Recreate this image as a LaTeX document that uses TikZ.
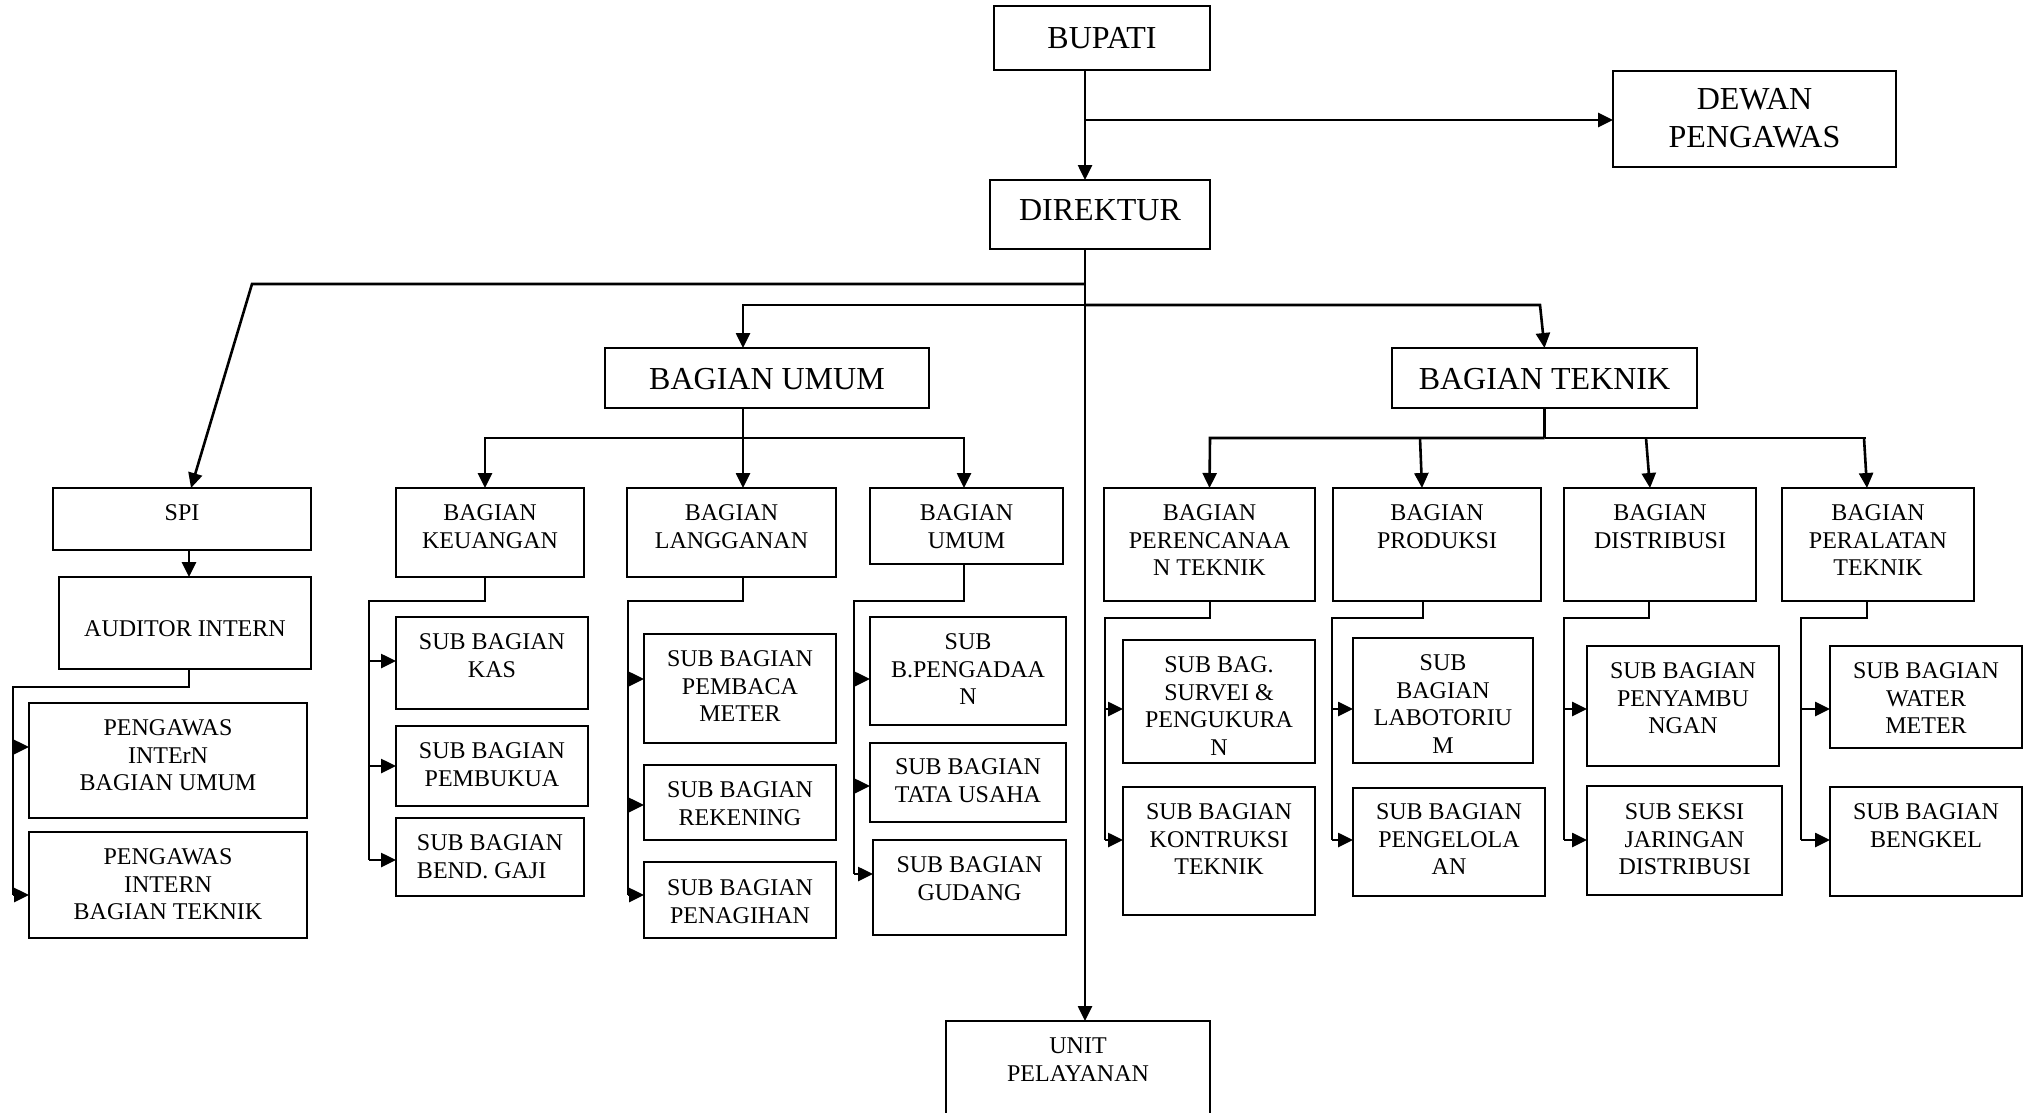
\documentclass[tikz,border=0pt]{standalone}
\usepackage{fontspec}
\setmainfont{Liberation Serif}
\usetikzlibrary{arrows.meta,calc}
\tikzset{
  box/.style={draw, line width=2.2pt, inner sep=0pt, outer sep=0pt},
  txt/.style={align=center, inner sep=0pt, outer sep=0pt, font=\fontsize{24}{27.5}\selectfont},
  txtl/.style={txt, align=left},
  bigtxt/.style={align=center, inner sep=0pt, outer sep=0pt, font=\fontsize{32}{38}\selectfont},
  conn/.style={line width=2.6pt},
  arr/.style={line width=2.6pt, -{Triangle[length=15pt,width=14pt]}},
}
% name, x1, y1, x2, y2, cap top, text
\newcommand{\bx}[8][txt]{%
  \node[box, minimum width={(#5-#3)*1pt}, minimum height={(#6-#4)*1pt}] (#2) at ({(#3+#5)/2},{(#4+#6)/2}) {};
  \node[#1, anchor=north] (#2t) at ({(#3+#5)/2},#7) {#8};
}
\begin{document}
\begin{tikzpicture}[x=1pt,y=-1pt]
\useasboundingbox (0,0) rectangle (2029,1112);
\clip (0,0) rectangle (2029,1112);

% top level
\bx[bigtxt]{bupati}{994}{6}{1210}{70}{27}{BUPATI}
\bx[bigtxt]{dewan}{1613}{71}{1896}{167}{88}{DEWAN\\PENGAWAS}
\bx[bigtxt]{direktur}{990}{180}{1210}{249}{200}{DIREKTUR}
\bx[bigtxt]{bumum}{605}{348}{929}{408}{368}{BAGIAN UMUM}
\bx[bigtxt]{btek}{1392}{348}{1697}{408}{368}{BAGIAN TEKNIK}

% left groups
\bx{spi}{53}{488}{311}{550}{505}{SPI}
\bx{aud}{59}{577}{311}{669}{621}{AUDITOR INTERN}
\bx{pgu}{29}{703}{307}{818}{720}{PENGAWAS\\INTErN\\BAGIAN UMUM}
\bx{pgt}{29}{832}{307}{938}{849}{PENGAWAS\\INTERN\\BAGIAN TEKNIK}

\bx{keu}{396}{488}{584}{577}{505}{BAGIAN\\KEUANGAN}
\bx{kas}{396}{617}{588}{709}{634}{SUB BAGIAN\\KAS}
\bx{pemb}{396}{726}{588}{806}{743}{SUB BAGIAN\\PEMBUKUA}
\bx[txtl]{gaji}{396}{818}{584}{896}{835}{SUB BAGIAN\\BEND. GAJI}

\bx{lang}{627}{488}{836}{577}{505}{BAGIAN\\LANGGANAN}
\bx{meter}{644}{634}{836}{743}{651}{SUB BAGIAN\\PEMBACA\\METER}
\bx{rek}{644}{765}{836}{840}{782}{SUB BAGIAN\\REKENING}
\bx{tagih}{644}{862}{836}{938}{880}{SUB BAGIAN\\PENAGIHAN}

\bx{umum}{870}{488}{1063}{564}{505}{BAGIAN\\UMUM}
\bx{pengadaan}{870}{617}{1066}{725}{634}{SUB\\B.PENGADAA\\N}
\bx{tu}{870}{743}{1066}{822}{759}{SUB BAGIAN\\TATA USAHA}
\bx{gudang}{873}{840}{1066}{935}{857}{SUB BAGIAN\\GUDANG}

\bx{unit}{946}{1021}{1210}{1140}{1038}{UNIT\\PELAYANAN}

% right groups
\bx{perenc}{1104}{488}{1315}{601}{505}{BAGIAN\\PERENCANAA\\N TEKNIK}
\bx{survei}{1123}{640}{1315}{763}{657}{SUB BAG.\\SURVEI \&\\PENGUKURA\\N}
\bx{kontr}{1123}{787}{1315}{915}{804}{SUB BAGIAN\\KONTRUKSI\\TEKNIK}

\bx{prod}{1333}{488}{1541}{601}{505}{BAGIAN\\PRODUKSI}
\bx{lab}{1353}{638}{1533}{763}{655}{SUB\\BAGIAN\\LABOTORIU\\M}
\bx{pengel}{1353}{788}{1545}{896}{804}{SUB BAGIAN\\PENGELOLA\\AN}

\bx{dist}{1564}{488}{1756}{601}{505}{BAGIAN\\DISTRIBUSI}
\bx{sambung}{1587}{646}{1779}{766}{663}{SUB BAGIAN\\PENYAMBU\\NGAN}
\bx{jaringan}{1587}{786}{1782}{895}{804}{SUB SEKSI\\JARINGAN\\DISTRIBUSI}

\bx{alat}{1782}{488}{1974}{601}{505}{BAGIAN\\PERALATAN\\TEKNIK}
\bx{water}{1830}{646}{2022}{748}{663}{SUB BAGIAN\\WATER\\METER}
\bx{bengkel}{1830}{787}{2022}{896}{804}{SUB BAGIAN\\BENGKEL}

% trunk
\coordinate (t1) at (1085,120);
\coordinate (ts) at (1085,284);
\coordinate (t2) at (1085,305);
\draw[arr] (bupati.south -| t1) -- (direktur.north -| t1);
\draw[arr] (t1) -- (t1 -| dewan.west);
\draw[arr] (direktur.south -| t1) -- (unit.north -| t1);

% SPI branch
\coordinate (s2) at (252,284);
\draw[arr] (ts) -- (s2) -- ($(spi.north)+(9,0)$);

% bagian bus
\coordinate (u1) at (743,305);
\coordinate (u2) at (1540,305);
\draw[arr] (t2) -- (u1) -- (u1 |- bumum.north);
\draw[arr] (t2) -- (u2) -- (btek.north);

% bagian umum children
\coordinate (b0) at (485,438);
\coordinate (b1) at (743,438);
\coordinate (b2) at (964,438);
\draw[conn] (bumum.south -| b1) -- (b1);
\draw[arr] (b1) -- (b1 |- lang.north);
\draw[arr] (b1) -- (b0) -- (b0 |- keu.north);
\draw[arr] (b1) -- (b2) -- (b2 |- umum.north);

% bagian teknik children
\coordinate (k0) at (1210,438);
\coordinate (k2) at (1420,438);
\coordinate (k3) at (1646,438);
\coordinate (k4) at (1864,438);
\coordinate (k5) at (1866,438);
\draw[conn] (btek.south) -- (btek.south |- k0);
\draw[conn] (btek.south |- k0) -- (k5);
\draw[arr] (btek.south |- k0) -- (k0) -- (perenc.north);
\draw[arr] (k2) -- ($(prod.north)+(-15,0)$);
\draw[arr] (k3) -- ($(dist.north)+(-10,0)$);
\draw[arr] (k4) -- ($(alat.north)+(-11,0)$);

% SPI -> auditor -> pengawas
\coordinate (sa) at (189,550);
\draw[arr] (sa) -- (sa |- aud.north);
\coordinate (p0) at (189,687);
\coordinate (p1) at (13,687);
\coordinate (p2) at (13,747);
\coordinate (p3) at (13,895);
\draw[conn] (aud.south -| p0) -- (p0) -- (p1) -- (p3);
\draw[arr] (p2) -- (p2 -| pgu.west);
\draw[arr] (p3) -- (p3 -| pgt.west);

% keuangan
\coordinate (q0) at (485,601);
\coordinate (q1) at (369,601);
\coordinate (qa) at (369,661);
\coordinate (qb) at (369,766);
\coordinate (qc) at (369,860);
\draw[conn] (keu.south -| q0) -- (q0) -- (q1) -- (qc);
\draw[arr] (qa) -- (qa -| kas.west);
\draw[arr] (qb) -- (qb -| pemb.west);
\draw[arr] (qc) -- (qc -| gaji.west);

% langganan
\coordinate (r0) at (743,601);
\coordinate (r1) at (628,601);
\coordinate (ra) at (628,679);
\coordinate (rb) at (628,805);
\coordinate (rc) at (628,895);
\draw[conn] (lang.south -| r0) -- (r0) -- (r1) -- (rc);
\draw[arr] (ra) -- (ra -| meter.west);
\draw[arr] (rb) -- (rb -| rek.west);
\draw[arr] (rc) -- (rc -| tagih.west);

% umum
\coordinate (v0) at (964,601);
\coordinate (v1) at (854,601);
\coordinate (va) at (854,679);
\coordinate (vb) at (854,786);
\coordinate (vc) at (854,874);
\draw[conn] (umum.south -| v0) -- (v0) -- (v1) -- (vc);
\draw[arr] (va) -- (va -| pengadaan.west);
\draw[arr] (vb) -- (vb -| tu.west);
\draw[arr] (vc) -- (vc -| gudang.west);

% perencanaan
\coordinate (w0) at (1210,618);
\coordinate (w1) at (1105,618);
\coordinate (wa) at (1105,709);
\coordinate (wb) at (1105,840);
\draw[conn] (perenc.south -| w0) -- (w0) -- (w1) -- (wb);
\draw[arr] (wa) -- (wa -| survei.west);
\draw[arr] (wb) -- (wb -| kontr.west);

% produksi
\coordinate (x0) at (1423,618);
\coordinate (x1) at (1332,618);
\coordinate (xa) at (1332,709);
\coordinate (xb) at (1332,840);
\draw[conn] (prod.south -| x0) -- (x0) -- (x1) -- (xb);
\draw[arr] (xa) -- (xa -| lab.west);
\draw[arr] (xb) -- (xb -| pengel.west);

% distribusi
\coordinate (y0) at (1649,618);
\coordinate (y1) at (1564,618);
\coordinate (ya) at (1564,709);
\coordinate (yb) at (1564,840);
\draw[conn] (dist.south -| y0) -- (y0) -- (y1) -- (yb);
\draw[arr] (ya) -- (ya -| sambung.west);
\draw[arr] (yb) -- (yb -| jaringan.west);

% peralatan
\coordinate (z0) at (1867,618);
\coordinate (z1) at (1801,618);
\coordinate (za) at (1801,709);
\coordinate (zb) at (1801,840);
\draw[conn] (alat.south -| z0) -- (z0) -- (z1) -- (zb);
\draw[arr] (za) -- (za -| water.west);
\draw[arr] (zb) -- (zb -| bengkel.west);
\end{tikzpicture}
\end{document}
